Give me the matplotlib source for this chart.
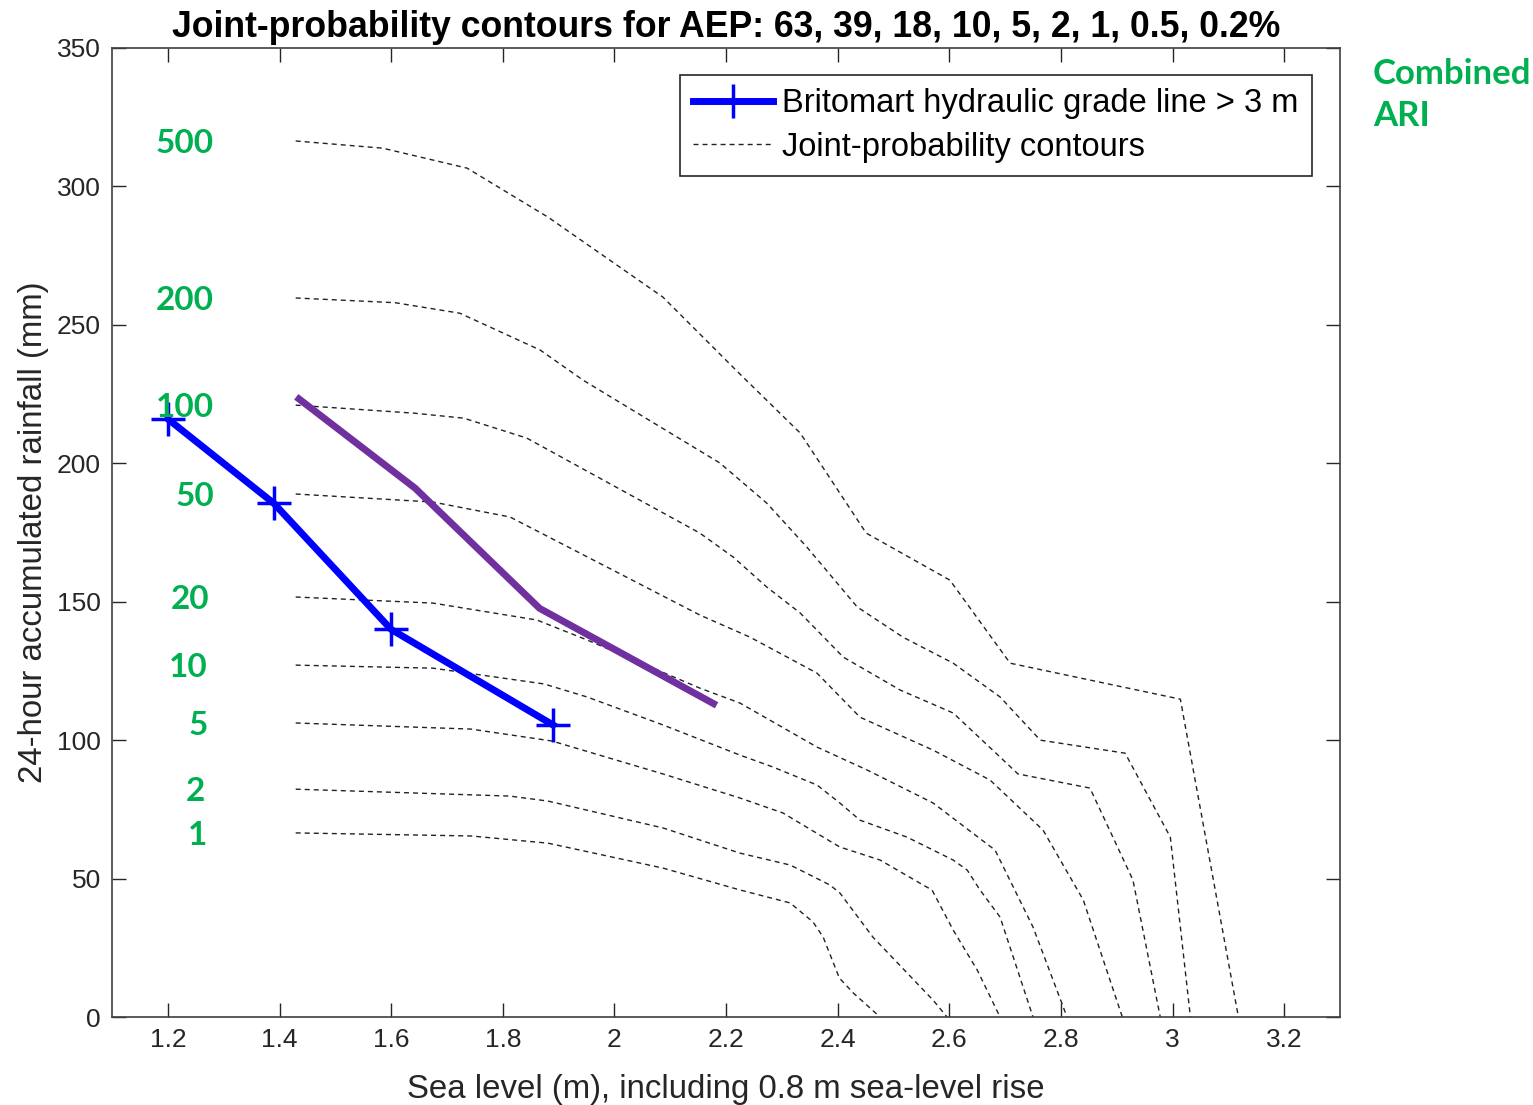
import matplotlib
matplotlib.use('Agg')
import matplotlib.pyplot as plt

plt.rcParams['font.family'] = ['Liberation Sans', 'DejaVu Sans']

# combined ARI (years) of each joint-probability contour, outermost first
ari = [500, 200, 100, 50, 20, 10, 5, 2, 1]

# contour traces: sea level (m) and 24-h rainfall (mm)
contour_x = [
    [1.429, 1.585, 1.736, 1.881, 2.087, 2.223, 2.333, 2.451, 2.601, 2.709, 3.014, 3.118],
    [1.429, 1.607, 1.723, 1.867, 1.944, 2.189, 2.273, 2.345, 2.435, 2.517, 2.607, 2.691,
     2.763, 2.915, 2.996, 3.032],
    [1.429, 1.641, 1.730, 1.843, 2.153, 2.213, 2.273, 2.333, 2.410, 2.512, 2.607, 2.691,
     2.723, 2.852, 2.929, 2.978],
    [1.429, 1.675, 1.813, 2.153, 2.243, 2.363, 2.440, 2.463, 2.571, 2.673, 2.768, 2.840, 2.910],
    [1.429, 1.675, 1.861, 1.951, 2.153, 2.225, 2.363, 2.453, 2.571, 2.682, 2.750, 2.811],
    [1.429, 1.675, 1.874, 1.951, 2.087, 2.225, 2.284, 2.363, 2.404, 2.440, 2.524, 2.607,
     2.632, 2.655, 2.691, 2.750],
    [1.429, 1.743, 1.888, 2.087, 2.225, 2.302, 2.374, 2.404, 2.476, 2.553, 2.569, 2.607,
     2.650, 2.691],
    [1.429, 1.813, 1.881, 2.087, 2.225, 2.315, 2.386, 2.404, 2.463, 2.571, 2.596],
    [1.429, 1.743, 1.881, 2.087, 2.225, 2.315, 2.356, 2.374, 2.403, 2.428, 2.476],
]
contour_y = [
    [316.4, 313.8, 306.6, 288.9, 260.0, 232.6, 210.9, 174.8, 157.8, 127.8, 114.8, 0.0],
    [259.7, 258.0, 254.2, 240.9, 230.0, 200.1, 185.6, 169.7, 148.1, 137.2, 127.8, 115.6,
     100.0, 95.3, 65.0, 0.0],
    [221.0, 218.1, 216.3, 209.1, 174.8, 166.1, 155.3, 145.9, 130.0, 118.1, 109.8, 93.9,
     87.8, 82.7, 49.5, 0.0],
    [188.9, 186.0, 180.6, 145.2, 137.2, 124.2, 108.3, 106.2, 96.4, 85.6, 67.5, 42.3, 0.0],
    [151.7, 149.5, 143.4, 136.2, 118.8, 113.4, 97.5, 89.2, 77.3, 60.3, 32.5, 0.0],
    [127.1, 126.0, 120.3, 115.6, 105.5, 94.6, 90.3, 83.8, 77.3, 71.1, 65.0, 56.7,
     53.1, 45.9, 36.1, 0.0],
    [106.2, 104.0, 99.7, 87.8, 79.1, 73.7, 65.0, 61.4, 56.7, 47.7, 45.9, 31.4, 17.0, 0.0],
    [82.3, 79.8, 78.0, 68.3, 59.2, 54.9, 47.7, 44.8, 28.9, 6.1, 0.0],
    [66.5, 65.4, 62.8, 53.8, 45.9, 41.2, 34.3, 28.9, 14.1, 8.7, 0.0],
]

# Britomart HGL > 3 m threshold (model runs) and the shifted threshold line
hgl_x = [1.2, 1.39, 1.6, 1.89]
hgl_y = [216, 185.5, 140, 105.5]
shift_x = [1.43, 1.643, 1.866, 2.183]
shift_y = [224, 191, 147.6, 112.6]

xticks = [1.2, 1.4, 1.6, 1.8, 2.0, 2.2, 2.4, 2.6, 2.8, 3.0, 3.2]
xticklabels = ['1.2', '1.4', '1.6', '1.8', '2', '2.2', '2.4', '2.6', '2.8', '3', '3.2']
yticks = [0, 50, 100, 150, 200, 250, 300, 350]

green = '#00B050'
axcol = '#404040'

fig = plt.figure(figsize=(15.33, 11.05), dpi=100)
ax = fig.add_axes([0.0731, 0.0796, 0.8010, 0.8770])

for i, (cx, cy) in enumerate(zip(contour_x, contour_y)):
    ax.plot(cx, cy, color='#222222', lw=1.0, ls=(0, (3.6, 2.9)),
            label='Joint-probability contours' if i == 0 else None)

ax.plot(shift_x, shift_y, color='#7030A0', lw=5, solid_capstyle='butt')
ax.plot(hgl_x, hgl_y, color='#0000FF', lw=5, marker='+', ms=24, mew=2.5,
        label='Britomart hydraulic grade line > 3 m')

# ARI labels beside the start of each contour
label_x = [1.2305, 1.2305, 1.2305, 1.248, 1.239, 1.236, 1.254, 1.25, 1.254]
for a, lx, cy in zip(ari, label_x, contour_y):
    ax.text(lx, cy[0] - 1.0, str(a), color=green, fontsize=24, fontweight='bold',
            family=['Lato', 'DejaVu Sans'], ha='center', va='center')

fig.text(1373 / 1533, 1 - 95 / 1105, 'Combined\nARI', color=green, fontsize=25,
         fontweight='bold', family=['Lato', 'DejaVu Sans'], ha='left', va='center',
         linespacing=1.42)

ax.set_xlim(1.1, 3.3)
ax.set_ylim(0, 350)
ax.set_xticks(xticks)
ax.set_xticklabels(xticklabels)
ax.set_yticks(yticks)
ax.tick_params(direction='in', length=10, width=1, colors='#262626', labelsize=19,
               top=True, right=True, pad=8)
for s in ax.spines.values():
    s.set_color(axcol)
    s.set_linewidth(1.2)

ax.set_title('Joint-probability contours for AEP: 63, 39, 18, 10, 5, 2, 1, 0.5, 0.2%',
             fontsize=25.7, fontweight='bold', pad=8)
ax.set_xlabel('Sea level (m), including 0.8 m sea-level rise', fontsize=23.8,
              color='#262626', labelpad=16)
ax.set_ylabel('24-hour accumulated rainfall (mm)', fontsize=23.8, color='#262626',
              labelpad=6)

handles, labels = ax.get_legend_handles_labels()
order = [1, 0]
leg = ax.legend([handles[k] for k in order], [labels[k] for k in order],
                loc='upper right', bbox_to_anchor=(0.977, 0.972), borderaxespad=0,
                fontsize=23.5, numpoints=1, handlelength=2.45, handletextpad=0.3,
                fancybox=False, edgecolor='#262626', framealpha=1,
                borderpad=0.4, labelspacing=0.38)
leg.get_frame().set_linewidth(1.2)

fig.savefig('out.png', dpi=100)
